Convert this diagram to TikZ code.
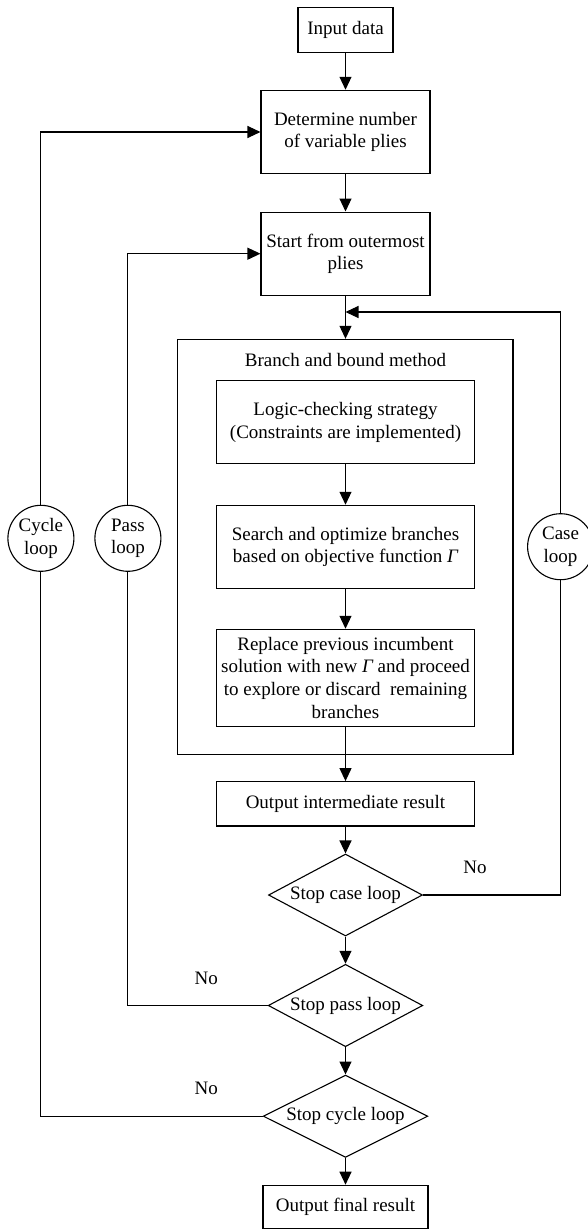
\documentclass[tikz,border=0pt]{standalone}
\usepackage{fontspec}
\setmainfont{Liberation Serif}
\usetikzlibrary{shapes.geometric,arrows.meta}
\begin{document}
\begin{tikzpicture}[x=1pt,y=-1pt, line width=1.1pt,
  >={Triangle[length=13pt,width=12pt]},
  every node/.style={font=\fontsize{19}{22.7}\selectfont},
  box/.style={draw, rectangle, inner sep=0pt, align=center},
  dec/.style={draw, diamond, inner sep=0pt, align=center, aspect=1.88},
  loopc/.style={draw, circle, fill=white, inner sep=0pt, minimum size=66pt, align=center},
  lbl/.style={inner sep=0pt}]
\useasboundingbox (0,0) rectangle (588,1229);
\clip (0,0) rectangle (588,1229);

% main column
\node[box, minimum width=95pt, minimum height=45pt] (in) at (345.5,29.8) {Input data};
\node[box, minimum width=169pt, minimum height=83.4pt] (det) at (345.5,132) {Determine number\\of variable plies};
\node[box, minimum width=169pt, minimum height=83.3pt] (start) at (345.5,253.7) {Start from outermost\\plies};
\node[draw, inner sep=0pt, minimum width=335.6pt, minimum height=414.7pt] (bb) at (345.2,546.7) {};
\node (bbt) at (345.5,360) {Branch and bound method};
\node[box, minimum width=258.7pt, minimum height=83pt] (logic) at (345.5,422.2) {Logic-checking strategy\\(Constraints are implemented)};
\node[box, minimum width=258.7pt, minimum height=83pt] (search) at (345.5,546.8) {Search and optimize branches\\based on objective function {\itshape Γ}};
\node[box, minimum width=258.7pt, minimum height=97pt] (rep) at (345.5,677.8) {Replace previous incumbent\\solution with new {\itshape Γ} and proceed\\to explore or discard~ remaining\\branches};
\node[box, minimum width=258.7pt, minimum height=44.3pt] (out) at (345.5,803.8) {Output intermediate result};
\node[dec, minimum width=154pt, minimum height=82pt] (sc) at (345.5,895) {Stop case loop};
\node[dec, minimum width=154.5pt, minimum height=82.4pt] (sp) at (345.5,1005.5) {Stop pass loop};
\node[dec, minimum width=164.6pt, minimum height=82.3pt] (scy) at (345.5,1116.2) {Stop cycle loop};
\node[box, minimum width=165pt, minimum height=43.5pt] (fin) at (345.5,1207) {Output final result};

% loop circles
\node[loopc] (cyc) at (40.9,538.3) {Cycle\\loop};
\node[loopc] (pas) at (127.9,538.3) {Pass\\loop};
\node[loopc] (cas) at (560.6,546.7) {Case\\loop};

% labels
\node[lbl] (nocase) at (475,867.3) {No};
\node[lbl] (nopass) at (206.2,978.3) {No};
\node[lbl] (nocyc) at (206.2,1088.3) {No};

% connectors
\coordinate (caseIn) at (345.5,312);
\draw[->] (in) -- (det);
\draw[->] (det) -- (start);
\draw[->] (start.south) -- (start.south |- bb.north);
\draw[->] (logic) -- (search);
\draw[->] (search) -- (rep);
\draw[->] (rep) -- (out);
\draw[->] (out) -- (sc);
\draw[->] (sc) -- (sp);
\draw[->] (sp) -- (scy);
\draw[->] (scy) -- (fin);

\draw (sc.east) -| (cas.south);
\draw[->] (cas.north) |- (caseIn);
\draw (sp.west) -| (pas.south);
\draw[->] (pas.north) |- (start.west);
\draw (scy.west) -| (cyc.south);
\draw[->] (cyc.north) |- (det.west);
\end{tikzpicture}
\end{document}
